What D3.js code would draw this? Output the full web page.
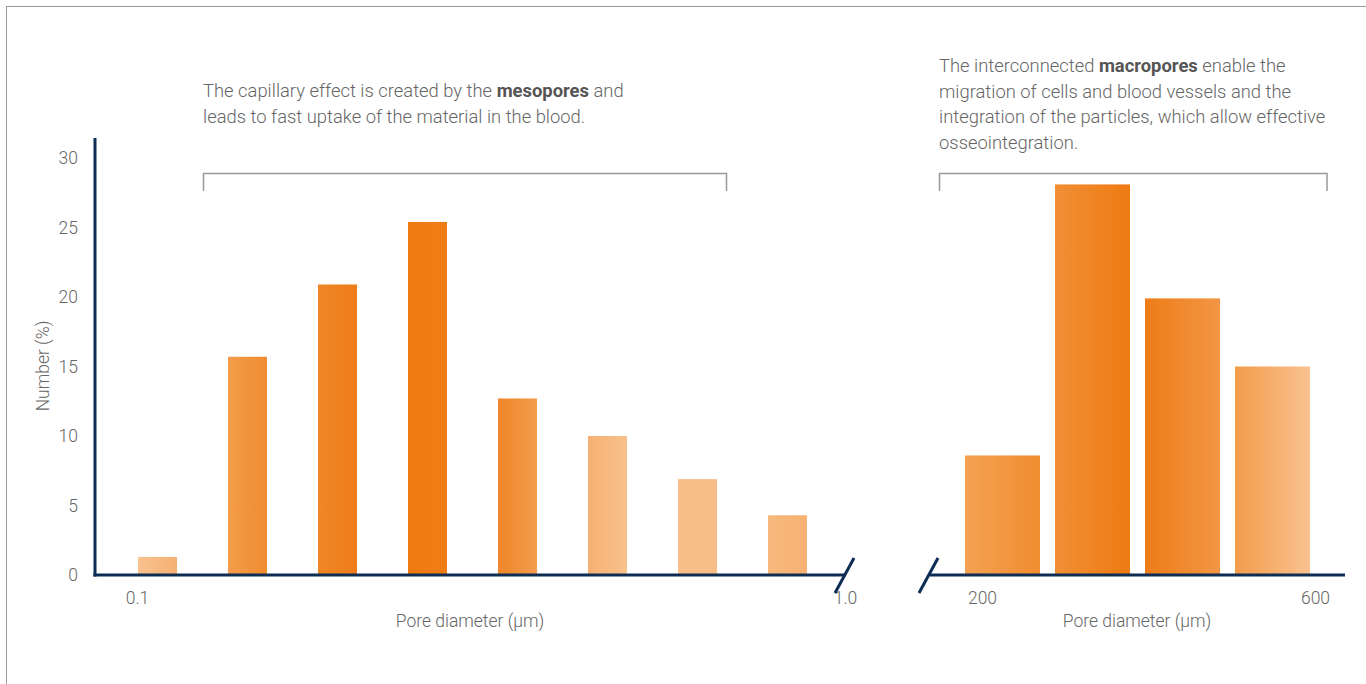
<!DOCTYPE html>
<html>
<head>
<meta charset="utf-8">
<script src="https://cdn.jsdelivr.net/npm/d3@7"></script>
<style>
  body { margin: 0; background: #fff; }
  text { font-family: Roboto, "Open Sans", sans-serif; fill: #666; font-weight: 300; }
</style>
</head>
<body>
<div class="chart"></div>
<script>
// mesopores panel
let mesoBins = ['0.1', '0.2', '0.3', '0.4', '0.5', '0.6', '0.7', '0.8']
let mesoValues = [1.3, 15.7, 20.9, 25.4, 12.7, 10.0, 6.9, 4.3]
let mesoTicks = [0.1, 1.0]

// macropores panel
let macroBins = ['200-300', '300-400', '400-500', '500-600']
let macroValues = [8.6, 28.1, 19.9, 15.0]
let macroTicks = [200, 600]

let yTicks = [0, 5, 10, 15, 20, 25, 30]

// left/right colour of each bar's gradient
let mesoColors = [['#f9c290', '#f5b072'], ['#f39c4a', '#f08c30'], ['#ef8626', '#ee7c18'], ['#ee7a12', '#ef7d16'],
                  ['#f08628', '#f29c4c'], ['#f6b172', '#f8c18c'], ['#f8bf8a', '#f8be88'], ['#f7b97c', '#f6b172']]
let macroColors = [['#f3a253', '#f08c30'], ['#f18f36', '#ee7a12'], ['#ee7c18', '#f29644'], ['#f39c4a', '#f9c290']]

let width = 1366
let height = 684
let navy = '#0d2d55'

let svg = d3.select('.chart')
            .append('svg')
            .attr('width', width)
            .attr('height', height)

// outer frame
svg.append('rect')
   .attr('x', 6.5).attr('y', 6.5)
   .attr('width', 1400).attr('height', 700)
   .attr('fill', 'none')
   .attr('stroke', '#999')

let yScale = d3.scaleLinear()
               .domain([0, 30])
               .range([575, 158])

let xMeso = d3.scaleBand()
              .domain(mesoBins)
              .range([112.5, 832.5])
              .paddingInner(0.567)
              .paddingOuter(0.2835)

let xMacro = d3.scaleBand()
               .domain(macroBins)
               .range([957.5, 1317.5])
               .paddingInner(0.1667)
               .paddingOuter(0.0833)

let mesoTickScale = d3.scaleLinear().domain([0.1, 1.0]).range([137, 845])
let macroTickScale = d3.scaleLinear().domain([200, 600]).range([982, 1315])

let defs = svg.append('defs')
function addGrad(id, pair) {
    let g = defs.append('linearGradient').attr('id', id)
                .attr('x1', '0%').attr('x2', '100%').attr('y1', '0%').attr('y2', '0%')
    g.append('stop').attr('offset', '0%').attr('stop-color', pair[0])
    g.append('stop').attr('offset', '100%').attr('stop-color', pair[1])
}
mesoColors.forEach((c, i) => addGrad('meso' + i, c))
macroColors.forEach((c, i) => addGrad('macro' + i, c))

svg.selectAll('rect.meso')
   .data(mesoValues)
   .enter()
   .append('rect')
   .attr('class', 'meso')
   .attr('x', (d, i) => xMeso(mesoBins[i]))
   .attr('width', xMeso.bandwidth())
   .attr('y', d => yScale(d))
   .attr('height', d => yScale(0) - yScale(d))
   .attr('fill', (d, i) => `url(#meso${i})`)

svg.selectAll('rect.macro')
   .data(macroValues)
   .enter()
   .append('rect')
   .attr('class', 'macro')
   .attr('x', (d, i) => xMacro(macroBins[i]))
   .attr('width', xMacro.bandwidth())
   .attr('y', d => yScale(d))
   .attr('height', d => yScale(0) - yScale(d))
   .attr('fill', (d, i) => `url(#macro${i})`)

// y axis labels
let yAxis = d3.axisLeft(yScale).tickValues(yTicks).tickSize(0).tickPadding(0)
let gy = svg.append('g')
   .attr('transform', 'translate(78,0)')
   .call(yAxis)
gy.select('.domain').remove()
gy.selectAll('text').style('font-size', '17.5px').attr('fill', '#666').style('font-family', 'Roboto')

// x axis labels
function bottomLabels(scale, ticks) {
    let ax = d3.axisBottom(scale).tickValues(ticks).tickSize(0).tickPadding(0)
               .tickFormat(d => d < 10 ? d3.format('.1f')(d) : d)
    let g = svg.append('g').attr('transform', 'translate(0,592)').call(ax)
    g.select('.domain').remove()
    g.selectAll('text').style('font-size', '17.5px').attr('fill', '#666').style('font-family', 'Roboto')
}
bottomLabels(mesoTickScale, mesoTicks)
bottomLabels(macroTickScale, macroTicks)

// axis lines
svg.append('line').attr('x1', 95).attr('x2', 95).attr('y1', 138).attr('y2', 576.5)
   .attr('stroke', navy).attr('stroke-width', 3)
svg.append('line').attr('x1', 93.5).attr('x2', 845).attr('y1', yScale(0)).attr('y2', yScale(0))
   .attr('stroke', navy).attr('stroke-width', 3)
svg.append('line').attr('x1', 930).attr('x2', 1345).attr('y1', yScale(0)).attr('y2', yScale(0))
   .attr('stroke', navy).attr('stroke-width', 3)
// break marks
svg.append('line').attr('x1', 835).attr('y1', 593).attr('x2', 854).attr('y2', 558)
   .attr('stroke', navy).attr('stroke-width', 3)
svg.append('line').attr('x1', 919).attr('y1', 593).attr('x2', 938).attr('y2', 558)
   .attr('stroke', navy).attr('stroke-width', 3)

// axis titles
svg.append('text').attr('x', 470).attr('y', 627).attr('text-anchor', 'middle')
   .style('font-size', '17.5px').text('Pore diameter (µm)')
svg.append('text').attr('x', 1137).attr('y', 627).attr('text-anchor', 'middle')
   .style('font-size', '17.5px').text('Pore diameter (µm)')
svg.append('text').attr('transform', 'translate(49,366) rotate(-90)').attr('text-anchor', 'middle')
   .style('font-size', '17.5px').text('Number (%)')

// brackets
function bracket(x1, x2) {
    svg.append('path')
       .attr('d', `M${x1},191V173.5H${x2}V191`)
       .attr('fill', 'none').attr('stroke', '#999').attr('stroke-width', 1.5)
}
bracket(203.5, 726.5)
bracket(939.5, 1327)

// annotations
function note(x, y, lines) {
    let t = svg.append('text').attr('x', x).attr('y', y).style('font-size', '18.4px')
    lines.forEach((parts, i) => {
        parts.forEach((p, j) => {
            let s = t.append('tspan').text(p[0])
            if (j === 0) s.attr('x', x).attr('dy', i === 0 ? 0 : 25.5)
            if (p[1]) s.style('font-weight', 'bold').attr('fill', '#555')
        })
    })
}
note(203, 97, [
    [['The capillary effect is created by the '], ['mesopores', true], [' and']],
    [['leads to fast uptake of the material in the blood.']]
])
note(939, 72, [
    [['The interconnected '], ['macropores', true], [' enable the']],
    [['migration of cells and blood vessels and the']],
    [['integration of the particles, which allow effective']],
    [['osseointegration.']]
])
</script>
</body>
</html>
